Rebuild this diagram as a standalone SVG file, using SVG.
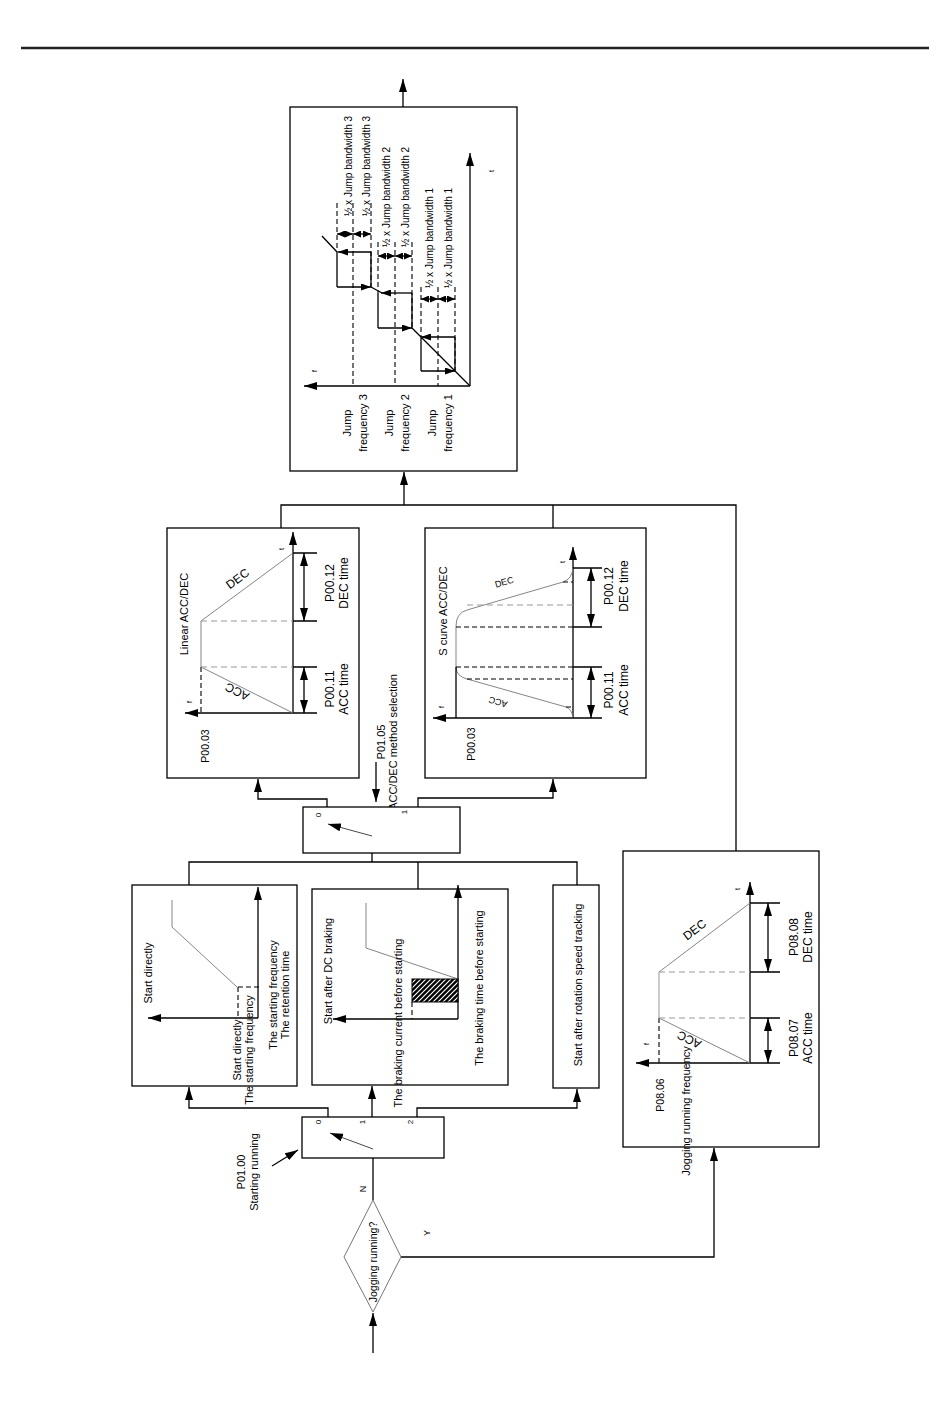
<svg xmlns="http://www.w3.org/2000/svg" width="950" height="1424" viewBox="0 0 950 1424">
<defs>
<marker id="ah" viewBox="0 0 13 8" refX="13" refY="4" markerWidth="13" markerHeight="8" markerUnits="userSpaceOnUse" orient="auto-start-reverse"><path d="M0,0 L13,4 L0,8 z" fill="#000"/></marker>
<marker id="am" viewBox="0 0 10 7" refX="10" refY="3.5" markerWidth="10" markerHeight="7" markerUnits="userSpaceOnUse" orient="auto-start-reverse"><path d="M0,0 L10,3.5 L0,7 z" fill="#000"/></marker>
<marker id="ad" viewBox="0 0 8 7" refX="8" refY="3.5" markerWidth="8" markerHeight="7" markerUnits="userSpaceOnUse" orient="auto-start-reverse"><path d="M0,0 L8,3.5 L0,7 z" fill="#000"/></marker>
<pattern id="hatch" patternUnits="userSpaceOnUse" width="5" height="5"><rect width="5" height="5" fill="#000"/><path d="M-1,6 L6,-1 M-3.5,3.5 L3.5,-3.5 M1.5,8.5 L8.5,1.5" stroke="#fff" stroke-width="1.2"/></pattern>
</defs>
<style>
.b{fill:none;stroke:#000;stroke-width:1.3}
.box{fill:#fff;stroke:#000;stroke-width:1.3}
.g{fill:none;stroke:#777;stroke-width:0.9}
.gl{fill:none;stroke:#aaa;stroke-width:1.2}
.d{fill:none;stroke:#000;stroke-width:1.1;stroke-dasharray:5 3}
.dg{fill:none;stroke:#999;stroke-width:1;stroke-dasharray:6 4}
.a{marker-end:url(#ah)}
.aa{marker-start:url(#ah);marker-end:url(#ah)}
.am{marker-end:url(#am)}
.ad{marker-start:url(#ad);marker-end:url(#ad)}
text{font-family:"Liberation Sans",Arial,sans-serif;font-size:11px;fill:#000}
.s{font-size:7px}
.m{text-anchor:middle}
.j{font-size:10px}
.p{font-size:12px}
</style>
<rect width="950" height="1424" fill="#fff"/>
<line x1="21" y1="48" x2="929" y2="48" stroke="#222" stroke-width="2.5"/>

<g id="connectors">
<line class="b a" x1="403" y1="107" x2="403" y2="79"/>
<line class="b a" x1="404" y1="505" x2="404" y2="472"/>
<path class="b" d="M281,528 L281,505 L736,505 L736,851 M553,505 L553,528"/>
<path class="b a" d="M327,823 L327,799 L258,799 L258,779"/>
<path class="b a" d="M418,823 L418,798 L553,798 L553,779"/>
<line class="b a" x1="376" y1="762" x2="376" y2="802"/>
<path class="b" d="M189,885 L189,862 L577,862 L577,885 M418,862 L418,889 M372,836 L372,862"/>
<path class="b a" d="M328,1132 L328,1108 L189,1108 L189,1087"/>
<line class="b a" x1="372" y1="1130" x2="372" y2="1086"/>
<path class="b a" d="M417,1130 L417,1108 L577,1108 L577,1089"/>
<line class="b" x1="373" y1="1149" x2="373" y2="1200"/>
<line class="b a" x1="373" y1="1353" x2="373" y2="1313"/>
<path class="b a" d="M401,1257 L714,1257 L714,1148"/>
<line class="b a" x1="272" y1="1166" x2="298" y2="1150"/>
<text transform="translate(366,1189) rotate(-90)" class="m" style="font-size:9px">N</text>
<text transform="translate(430,1233) rotate(-90)" class="m" style="font-size:9px">Y</text>
<text transform="translate(245,1172) rotate(-90)" class="m"><tspan x="0" y="0">P01.00</tspan><tspan x="0" y="13">Starting running</tspan></text>
<text transform="translate(385,742) rotate(-90)" class="m"><tspan x="0" y="0">P01.05</tspan><tspan x="0" y="12">ACC/DEC method selection</tspan></text>
</g>

<g id="jump">
<rect class="box" x="290" y="107" width="227" height="364"/>
<line class="b a" x1="470" y1="386" x2="470" y2="153"/>
<line class="b a" x1="470" y1="386" x2="304" y2="386"/>
<text class="s" transform="translate(494,172) rotate(-90)">t</text>
<text class="s" transform="translate(317,372) rotate(-90)">f</text>
<path class="d" d="M337,203 L337,252 M353,203 L353,386 M371,203 L371,287 M378,242 L378,293 M395,242 L395,386 M412,242 L412,328 M421,287 L421,337 M438,287 L438,386 M455,287 L455,371"/>
<line class="b ad" x1="337" y1="234" x2="353" y2="234"/>
<line class="b ad" x1="353" y1="234" x2="371" y2="234"/>
<line class="b ad" x1="378" y1="256" x2="395" y2="256"/>
<line class="b ad" x1="395" y1="256" x2="412" y2="256"/>
<line class="b ad" x1="421" y1="299" x2="438" y2="299"/>
<line class="b ad" x1="438" y1="299" x2="455" y2="299"/>
<path class="b" d="M470,386 L412,328 M421,337 L421,371 M455,337 L455,371 M378,293 L378,328 M412,293 L412,328 M382,293 L371,287 M337,252 L337,287 M371,252 L371,287 M337,252 L322,236"/>
<line class="b am" x1="421" y1="371" x2="455" y2="371"/>
<line class="b am" x1="455" y1="337" x2="421" y2="337"/>
<line class="b am" x1="378" y1="328" x2="412" y2="328"/>
<line class="b am" x1="412" y1="293" x2="381" y2="293"/>
<line class="b am" x1="337" y1="287" x2="371" y2="287"/>
<line class="b am" x1="371" y1="252" x2="338" y2="252"/>
<text class="j" transform="translate(352,216) rotate(-90)">½ x Jump bandwidth 3</text>
<text class="j" transform="translate(370,216) rotate(-90)">½ x Jump bandwidth 3</text>
<text class="j" transform="translate(390,247) rotate(-90)">½ x Jump bandwidth 2</text>
<text class="j" transform="translate(409,247) rotate(-90)">½ x Jump bandwidth 2</text>
<text class="j" transform="translate(433,288) rotate(-90)">½ x Jump bandwidth 1</text>
<text class="j" transform="translate(452,288) rotate(-90)">½ x Jump bandwidth 1</text>
<text class="m" transform="translate(351,423) rotate(-90)"><tspan x="0" y="0">Jump</tspan><tspan x="0" y="16">frequency 3</tspan></text>
<text class="m" transform="translate(393,423) rotate(-90)"><tspan x="0" y="0">Jump</tspan><tspan x="0" y="16">frequency 2</tspan></text>
<text class="m" transform="translate(436,423) rotate(-90)"><tspan x="0" y="0">Jump</tspan><tspan x="0" y="16">frequency 1</tspan></text>
</g>

<g id="linear">
<rect class="box" x="167" y="528" width="192" height="250"/>
<line class="b a" x1="293" y1="713" x2="293" y2="532"/>
<line class="b a" x1="293" y1="713" x2="185" y2="713"/>
<path class="g" d="M293,713 L201,667 L201,621 L293,553"/>
<path class="d" d="M201,667 L201,713"/>
<path class="dg" d="M201,667 L293,667 M201,621 L293,621"/>
<path class="b" d="M293,713 L317,713 M293,667 L317,667 M293,621 L317,621 M293,553 L317,553"/>
<line class="b aa" x1="304" y1="667" x2="304" y2="713"/>
<line class="b aa" x1="304" y1="553" x2="304" y2="621"/>
<text class="s" transform="translate(192,703) rotate(-90)">f</text>
<text class="s" transform="translate(284,550) rotate(-90)">t</text>
<text class="m" transform="translate(188,614) rotate(-90)">Linear ACC/DEC</text>
<text class="m" style="font-size:12px" transform="translate(240,582) rotate(-36.5)">DEC</text>
<text class="m" style="font-size:12px" transform="translate(239,688) rotate(-153.4)">ACC</text>
<text class="m p" transform="translate(334,583) rotate(-90)"><tspan x="0" y="0">P00.12</tspan><tspan x="0" y="14">DEC time</tspan></text>
<text class="m p" transform="translate(334,689) rotate(-90)"><tspan x="0" y="0">P00.11</tspan><tspan x="0" y="14">ACC time</tspan></text>
<text class="m" style="font-size:10.5px" transform="translate(209,746) rotate(-90)">P00.03</text>
</g>

<g id="scurve">
<rect class="box" x="425" y="528" width="221" height="250"/>
<line class="b a" x1="573" y1="718" x2="573" y2="547"/>
<line class="b a" x1="573" y1="718" x2="433" y2="718"/>
<path class="g" d="M573,718 Q572,709 566,707 L467,679 Q456,676 456,667 L456,626 Q456,613 467,610 L563,582 Q572,579 573,568"/>
<line class="b" x1="456" y1="718" x2="456" y2="667"/>
<path class="d" d="M456,667 L573,667 M467,679 L573,679 M566,707 L573,707 M456,627 L573,627 M563,582 L573,582"/>
<path class="dg" d="M467,605 L573,605"/>
<path class="b" d="M573,718 L602,718 M573,667 L602,667 M573,627 L602,627 M573,568 L602,568"/>
<line class="b aa" x1="591" y1="667" x2="591" y2="718"/>
<line class="b aa" x1="591" y1="568" x2="591" y2="627"/>
<text class="s" transform="translate(444,708) rotate(-90)">f</text>
<text class="s" transform="translate(565,563) rotate(-90)">t</text>
<text class="m" transform="translate(447,611) rotate(-90)">S curve ACC/DEC</text>
<text class="m" style="font-size:9px" transform="translate(505,585) rotate(-16.3)">DEC</text>
<text class="m" style="font-size:9px" transform="translate(499,699) rotate(-163.7)">ACC</text>
<text class="m p" transform="translate(613,586) rotate(-90)"><tspan x="0" y="0">P00.12</tspan><tspan x="0" y="15">DEC time</tspan></text>
<text class="m p" transform="translate(613,690) rotate(-90)"><tspan x="0" y="0">P00.11</tspan><tspan x="0" y="15">ACC time</tspan></text>
<text class="m" style="font-size:10.5px" transform="translate(475,744) rotate(-90)">P00.03</text>
</g>

<g id="accdec-switch">
<rect class="box" x="303" y="807" width="157" height="46"/>
<line class="g a" x1="372" y1="836" x2="328" y2="824" style="stroke:#333"/>
<text class="m" style="font-size:8px" transform="translate(321,815) rotate(-90)">0</text>
<text class="m" style="font-size:8px" transform="translate(407,812) rotate(-90)">1</text>
</g>

<g id="start-directly">
<rect class="box" x="132" y="885" width="165" height="201"/>
<line class="b a" x1="258" y1="1018" x2="258" y2="887"/>
<line class="b a" x1="258" y1="1018" x2="148" y2="1018"/>
<path class="g" d="M172,900 L172,927 L237,987"/>
<path class="d" d="M238,987 L238,1018 M238,987 L262,987"/>
<text class="m" transform="translate(152,973) rotate(-90)">Start directly</text>
<text class="m" transform="translate(277,995) rotate(-90)"><tspan x="0" y="0">The starting frequency</tspan><tspan x="0" y="12">The retention time</tspan></text>
<text class="m" transform="translate(241,1050) rotate(-90)"><tspan x="0" y="0">Start directly</tspan><tspan x="0" y="12">The starting frequency</tspan></text>
</g>

<g id="dc-braking">
<rect class="box" x="312" y="889" width="196" height="196"/>
<line class="b a" x1="458" y1="1019" x2="458" y2="885"/>
<line class="b a" x1="458" y1="1019" x2="333" y2="1019"/>
<path class="g" d="M366,903 L366,948 L458,979"/>
<rect x="412" y="979" width="46" height="23" fill="url(#hatch)" stroke="#000" stroke-width="1"/>
<path class="d" d="M412,1002 L412,1019"/>
<text class="m" transform="translate(332,971) rotate(-90)">Start after DC braking</text>
<text class="m" transform="translate(402,1023) rotate(-90)">The braking current before starting</text>
<text class="m" transform="translate(483,988) rotate(-90)">The braking time before starting</text>
</g>

<g id="speed-tracking">
<rect class="box" x="553" y="885" width="46" height="203"/>
<text class="m" transform="translate(582,985) rotate(-90)">Start after rotation speed tracking</text>
</g>

<g id="jogging">
<rect class="box" x="623" y="851" width="196" height="296"/>
<line class="b a" x1="750" y1="1063" x2="750" y2="882"/>
<line class="b a" x1="750" y1="1063" x2="636" y2="1063"/>
<path class="g" d="M750,1063 L659,1018 M659,972 L750,903"/>
<path class="gl" d="M659,1018 L659,972"/>
<path class="d" d="M659,1018 L659,1063"/>
<path class="dg" d="M659,1018 L750,1018 M659,972 L750,972"/>
<path class="b" d="M750,1063 L780,1063 M750,1018 L780,1018 M750,972 L780,972 M750,903 L780,903"/>
<line class="b aa" x1="768" y1="1018" x2="768" y2="1063"/>
<line class="b aa" x1="768" y1="903" x2="768" y2="972"/>
<text class="s" transform="translate(649,1045) rotate(-90)">f</text>
<text class="s" transform="translate(740,890) rotate(-90)">t</text>
<text class="m" style="font-size:12px" transform="translate(697,933) rotate(-37.2)">DEC</text>
<text class="m" style="font-size:12px" transform="translate(691,1036) rotate(-153.7)">ACC</text>
<text class="m p" transform="translate(798,937) rotate(-90)"><tspan x="0" y="0">P08.08</tspan><tspan x="0" y="14">DEC time</tspan></text>
<text class="m p" transform="translate(798,1038) rotate(-90)"><tspan x="0" y="0">P08.07</tspan><tspan x="0" y="14">ACC time</tspan></text>
<text class="m" style="font-size:10.5px" transform="translate(664,1095) rotate(-90)">P08.06</text>
<text class="m" transform="translate(690,1111) rotate(-90)">Jogging running frequency</text>
</g>

<g id="start-switch">
<rect class="box" x="302" y="1117" width="142" height="41"/>
<line class="g a" x1="373" y1="1149" x2="330" y2="1133" style="stroke:#333"/>
<text class="m" style="font-size:8px" transform="translate(321,1122) rotate(-90)">0</text>
<text class="m" style="font-size:8px" transform="translate(365,1122) rotate(-90)">1</text>
<text class="m" style="font-size:8px" transform="translate(413,1122) rotate(-90)">2</text>
</g>

<g id="jogging-decision">
<polygon points="373,1200 401,1257 373,1312 344,1257" fill="#fff" stroke="#666" stroke-width="0.9"/>
<text class="m" style="font-size:10.5px" transform="translate(377,1262) rotate(-90)">Jogging running?</text>
</g>
</svg>
